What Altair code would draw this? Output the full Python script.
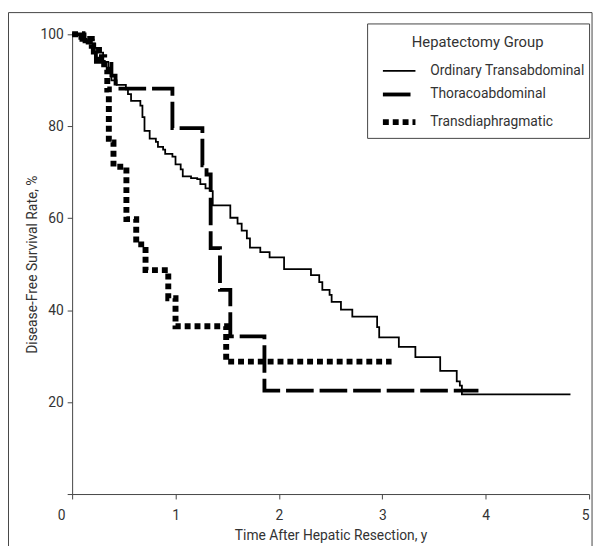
import altair as alt
import pandas as pd

groups = ["Ordinary Transabdominal", "Thoracoabdominal", "Transdiaphragmatic"]

ord_t = [0, 0.07, 0.14, 0.22, 0.30, 0.35, 0.38, 0.43, 0.52, 0.54, 0.57, 0.66, 0.68, 0.70, 0.75,
         0.81, 0.83, 0.88, 0.90, 0.97, 1.00, 1.05, 1.07, 1.15, 1.21, 1.24, 1.29, 1.34, 1.36, 1.53,
         1.60, 1.64, 1.69, 1.72, 1.82, 1.91, 2.05, 2.31, 2.39, 2.42, 2.49, 2.51, 2.60, 2.71, 2.95,
         2.97, 3.16, 3.32, 3.56, 3.72, 3.75, 3.77, 4.82]
ord_s = [100, 99, 98, 96, 94, 92, 90, 89, 88, 87, 85.5, 84.5, 82, 79, 77.3,
         76.6, 75.5, 74.9, 74, 73.4, 71.7, 70.6, 69.1, 68.7, 68.5, 67.4, 66.5, 65.9, 62.8, 60.1,
         58.8, 57.3, 55.6, 53.6, 52.6, 51.5, 48.9, 47.6, 46.1, 44.4, 43.3, 41.8, 40.1, 38.6, 36.3,
         34.1, 32, 29.8, 26.8, 24.5, 23.6, 21.7, 21.7]

tho_t = [0, 0.12, 0.20, 0.23, 0.38, 0.42, 0.97, 1.26, 1.30, 1.34, 1.43, 1.53, 1.86, 3.93]
tho_s = [100, 98.5, 96, 94, 91, 88.2, 79.6, 71.5, 69.5, 53.5, 44.4, 34.3, 22.5, 22.5]

tra_t = [0, 0.10, 0.19, 0.26, 0.31, 0.34, 0.355, 0.40, 0.525, 0.62, 0.71, 0.93, 1.00, 1.49, 3.09]
tra_s = [100, 99, 97.5, 95, 92.3, 88, 76.5, 71.2, 59.8, 54.3, 48.7, 42.6, 36.5, 28.8, 28.8]

x_ticks = [0, 1, 2, 3, 4, 5]
y_ticks = [0, 20, 40, 60, 80, 100]

rows = []
for g, ts, ss in zip(groups, [ord_t, tho_t, tra_t], [ord_s, tho_s, tra_s]):
    for t, s in zip(ts, ss):
        rows.append({"group": g, "time": t, "survival": s})
df = pd.DataFrame(rows)

FONT = "Roboto, Liberation Sans, sans-serif"
W, H = 524, 466
TXT = "#333333"

legend = alt.Legend(
    title="Hepatectomy Group", orient="none", legendX=299, legendY=-11,
    strokeColor="#444444", fillColor="white", padding=4,
    titleFont=FONT, titleFontSize=15, titleFontWeight="normal", titleColor=TXT,
    titleAnchor="middle", titleBaseline="line-top", titleLineHeight=31, titlePadding=21,
    labelFont=FONT, labelFontSize=14, labelColor=TXT, labelOffset=40,
    symbolType="M0.286,0H5", symbolSize=196, symbolStrokeColor="black",
    rowPadding=8,
)

lines = alt.Chart(df).mark_line(interpolate="step-after", color="black", strokeCap="butt").encode(
    x=alt.X("time:Q", scale=alt.Scale(domain=[0, 5], nice=False),
            axis=alt.Axis(values=x_ticks, title="Time After Hepatic Resection, y",
                          labelOffset={"condition": {"test": "datum.value === 0", "value": -15}, "value": 0},
                          labelPadding=10, titlePadding=6)),
    y=alt.Y("survival:Q", scale=alt.Scale(domain=[0, 100], nice=False),
            axis=alt.Axis(values=y_ticks, title="Disease-Free  Survival Rate, %",
                          labelExpr="datum.value === 0 ? '' : datum.label", titlePadding=1)),
    strokeDash=alt.StrokeDash("group:N", scale=alt.Scale(domain=groups, range=[[1, 0], [28, 6], [6, 4]]),
                              legend=legend),
    strokeWidth=alt.StrokeWidth("group:N", scale=alt.Scale(domain=groups, range=[1.8, 6, 3.6]),
                                legend=legend),
)

one = pd.DataFrame({"k": [0]})
frame_left = alt.Chart(one).mark_rule(color="#444444", strokeWidth=1).encode(
    x=alt.value(-64.5), y=alt.value(-22), y2=alt.value(H + 60))
frame_top = alt.Chart(one).mark_rule(color="#444444", strokeWidth=1).encode(
    x=alt.value(-64.5), x2=alt.value(527), y=alt.value(-22))
frame_right = alt.Chart(one).mark_rule(color="#444444", strokeWidth=1).encode(
    x=alt.value(527), y=alt.value(-22), y2=alt.value(H + 60))

chart = alt.layer(lines, frame_left, frame_top, frame_right).properties(
    width=W, height=H,
    autosize=alt.AutoSizeParams(type="none"),
    padding={"left": 65, "top": 23, "right": 6, "bottom": 49},
).configure_view(stroke=None).configure_axis(
    grid=False, domainColor="#444444", tickColor="#444444", tickSize=5,
    labelFont=FONT, labelFontSize=14, labelColor=TXT, labelPadding=4,
    titleFont=FONT, titleFontSize=14, titleFontWeight="normal", titleColor=TXT,
)

chart.save("out.html", embed_options={"renderer": "svg", "actions": False})
